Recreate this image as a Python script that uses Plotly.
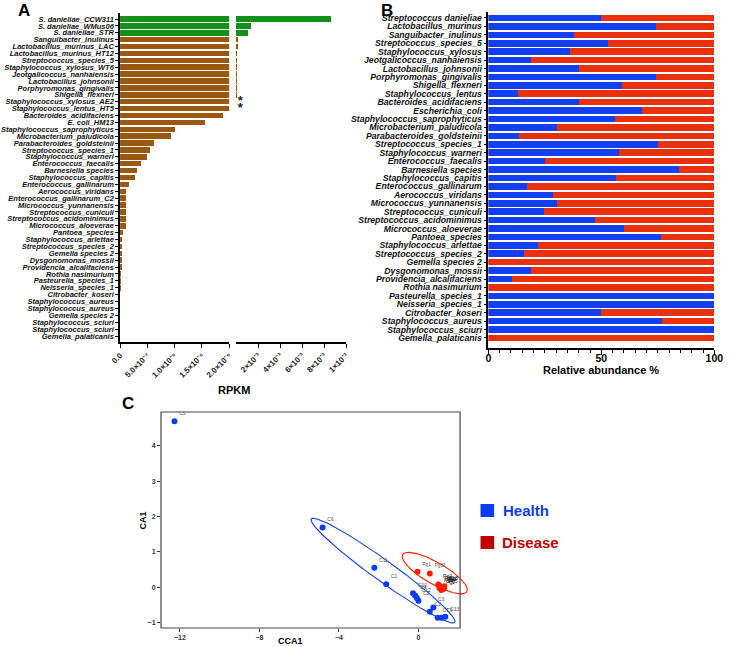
import numpy as np
import plotly.graph_objects as go

W, H = 735, 647
def fx(p): return p / W
def fy(p): return 1 - p / H

FONT = "Liberation Sans, Arial, sans-serif"

# ---------------- Panel A data ----------------
a_species = [
    "S. danieliae_CCW311", "S. danieliae_WMus06", "S. danieliae_STR", "Sanguibacter_inulinus",
    "Lactobacillus_murinus_LAC", "Lactobacillus_murinus_HT12", "Streptococcus_species_5",
    "Staphylococcus_xylosus_WT6", "Jeotgalicoccus_nanhaiensis", "Lactobacillus_johnsonii",
    "Porphyromonas_gingivalis", "Shigella_flexneri", "Staphylococcus_xylosus_AE2",
    "Staphylococcus_lentus_HT5", "Bacteroides_acidifaciens", "E. coli_HM13",
    "Staphylococcus_saprophyticus", "Microbacterium_paludicola", "Parabacteroides_goldsteinii",
    "Streptococcus_species_1", "Staphylococcus_warneri", "Enterococcus_faecalis",
    "Barnesiella species", "Staphylococcus_capitis", "Enterococcus_gallinarum",
    "Aerococcus_viridans", "Enterococcus_gallinarum_C2", "Micrococcus_yunnanensis",
    "Streptococcus_cuniculi", "Streptococcus_acidominimus", "Micrococcus_aloeverae",
    "Pantoea_species", "Staphylococcus_arlettae", "Streptococcus_species_2", "Gemella species 2",
    "Dysgonomonas_mossii", "Providencia_alcalifaciens", "Rothia nasimurium",
    "Pasteurella_species_1", "Neisseria_species_1", "Citrobacter_koseri",
    "Staphylococcus_aureus", "Staphylococcus_aureus", "Gemella species 2",
    "Staphylococcus_sciuri", "Staphylococcus_sciuri", "Gemella_palaticanis",
]
a_group = ["danieliae"] * 3 + ["other"] * 44
a_rpkm = [
    8.6e-3, 1.4e-3, 1.07e-3, 1.5e-4, 1.2e-4, 9e-5, 5e-5, 4e-5, 3e-5, 3e-5, 3e-5, 3e-5,
    5e-6, 4e-6, 1.89e-6, 1.55e-6, 1.0e-6, 0.94e-6, 0.62e-6, 0.55e-6, 0.49e-6, 0.39e-6,
    0.31e-6, 0.27e-6, 0.155e-6, 0.11e-6, 0.107e-6, 0.105e-6, 0.105e-6, 0.10e-6, 0.10e-6,
    0.05e-6, 0.04e-6, 0.03e-6, 0.03e-6, 0.03e-6, 0.02e-6, 0.015e-6, 0.015e-6, 0.01e-6,
    0.0, 0.0, 0.0, 0.0, 0.0, 0.0, 0.0,
]
a_starred = ["Staphylococcus_xylosus_AE2", "Staphylococcus_lentus_HT5"]
a_ticks1 = [0, 5e-7, 1e-6, 1.5e-6, 2e-6]
a_ticktext1 = ["0.0", "5.0×10⁻⁷", "1.0×10⁻⁶", "1.5×10⁻⁶", "2.0×10⁻⁶"]
a_ticks2 = [2e-3, 4e-3, 6e-3, 8e-3, 1e-2]
a_ticktext2 = ["2×10⁻³", "4×10⁻³", "6×10⁻³", "8×10⁻³", "1×10⁻²"]
a_break = 2e-6

# ---------------- Panel B data ----------------
b_species = [
    "Streptococcus danieliae", "Lactobacillus_murinus", "Sanguibacter_inulinus",
    "Streptococcus_species_5", "Staphylococcus_xylosus", "Jeotgalicoccus_nanhaiensis",
    "Lactobacillus_johnsonii", "Porphyromonas_gingivalis", "Shigella_flexneri",
    "Staphylococcus_lentus", "Bacteroides_acidifaciens", "Escherichia_coli",
    "Staphylococcus_saprophyticus", "Microbacterium_paludicola", "Parabacteroides_goldsteinii",
    "Streptococcus_species_1", "Staphylococcus_warneri", "Enterococcus_faecalis",
    "Barnesiella species", "Staphylococcus_capitis", "Enterococcus_gallinarum",
    "Aerococcus_viridans", "Micrococcus_yunnanensis", "Streptococcus_cuniculi",
    "Streptococcus_acidominimus", "Micrococcus_aloeverae", "Pantoea_species",
    "Staphylococcus_arlettae", "Streptococcus_species_2", "Gemella species 2",
    "Dysgonomonas_mossii", "Providencia_alcalifaciens", "Rothia nasimurium",
    "Pasteurella_species_1", "Neisseria_species_1", "Citrobacter_koseri",
    "Staphylococcus_aureus", "Staphylococcus_sciuri", "Gemella_palaticanis",
]
b_health = [50, 74, 38, 53, 36, 19, 40, 74, 59, 13, 40, 68, 56, 30.5, 13.5, 75, 58, 25,
            84.5, 56.5, 17, 28.5, 30.5, 24.5, 47, 60, 76.5, 22, 16, 0, 19, 10.5, 0,
            100, 100, 50, 77, 100, 0]
b_disease = [100 - v for v in b_health]

# ---------------- Panel C data ----------------
c_health_id = ["C5", "C6", "C11", "C1", "C10", "C4", "C12", "C8", "C3", "C2", "C7", "C9", "C13"]
c_health_x = [-12.27, -4.82, -2.22, -1.62, -0.27, -0.17, -0.08, 0.0, 0.75, 0.57, 0.97, 1.16, 1.35]
c_health_y = [4.69, 1.69, 0.55, 0.085, -0.17, -0.23, -0.30, -0.38, -0.57, -0.69, -0.86, -0.86, -0.83]
c_dis_id = ["Pg1", "Pg11", "Pg2", "Pg3", "Pg4", "Pg5", "Pg6", "Pg7", "Pg8"]
c_dis_x = [-0.05, 0.57, 1.0, 1.1, 1.2, 1.28, 1.05, 1.15, 1.3]
c_dis_y = [0.44, 0.39, 0.08, 0.03, 0.0, -0.04, -0.02, -0.08, 0.03]
# confidence ellipses: centre, half-axis vector u, half-axis vector v (data units)
ell_health = dict(c=(-1.78, 0.47), u=(3.61, -1.46), v=(0.294, 0.244))
ell_disease = dict(c=(0.82, 0.40), u=(1.62, -0.52), v=(0.26, 0.27))
c_xticks = [-12, -8, -4, 0]
c_yticks = [-1, 0, 1, 2, 3, 4]

GREEN = "#12901a"
BROWN = "#9a5710"
BLUE = "#1240f0"
RED = "#e8300c"
PBLUE = "#0a3cf5"
PRED = "#ff1e00"

fig = go.Figure()

# Panel A bars
a_rows = list(range(len(a_species)))
a_colors = [GREEN if g == "danieliae" else BROWN for g in a_group]
fig.add_trace(go.Bar(x=a_rpkm, y=a_rows, orientation="h", marker=dict(color=a_colors, line_width=0),
                     width=0.8, xaxis="x", yaxis="y", showlegend=False))
a_upper = [v if v > a_break * 5 else None for v in a_rpkm]
fig.add_trace(go.Bar(x=a_upper, y=a_rows, orientation="h", marker=dict(color=a_colors, line_width=0),
                     width=0.8, xaxis="x2", yaxis="y", showlegend=False))
star_rows = [a_species.index(s) for s in a_starred]
fig.add_trace(go.Scatter(x=[3.8e-4] * len(star_rows), y=star_rows, mode="text", text=["*"] * len(star_rows),
                         textfont=dict(size=13, color="#222", family=FONT, weight="bold"),
                         xaxis="x2", yaxis="y", showlegend=False, cliponaxis=False))

# Panel B bars
b_rows = list(range(len(b_species)))
fig.add_trace(go.Bar(x=b_health, y=b_rows, orientation="h", marker=dict(color=BLUE, line_width=0),
                     width=0.78, xaxis="x3", yaxis="y2", showlegend=False))
fig.add_trace(go.Bar(x=b_disease, y=b_rows, orientation="h", marker=dict(color=RED, line_width=0),
                     width=0.78, xaxis="x3", yaxis="y2", showlegend=False))

# Panel C ellipses
t = np.linspace(0, 2 * np.pi, 240)
for e, col in ((ell_health, PBLUE), (ell_disease, PRED)):
    ex = e["c"][0] + e["u"][0] * np.cos(t) + e["v"][0] * np.sin(t)
    ey = e["c"][1] + e["u"][1] * np.cos(t) + e["v"][1] * np.sin(t)
    fig.add_trace(go.Scatter(x=ex, y=ey, mode="lines", line=dict(color=col, width=1.1),
                             xaxis="x4", yaxis="y3", showlegend=False, hoverinfo="skip"))
fig.add_trace(go.Scatter(x=c_health_x, y=c_health_y, mode="markers+text", text=c_health_id,
                         textposition="top right", textfont=dict(size=5, color="#555", family=FONT),
                         marker=dict(color=PBLUE, size=6), xaxis="x4", yaxis="y3", showlegend=False))
dis_text_col = ["#555", "#555"] + ["#111"] * (len(c_dis_id) - 2)
fig.add_trace(go.Scatter(x=c_dis_x, y=c_dis_y, mode="markers+text", text=c_dis_id,
                         textposition="top right", textfont=dict(size=5, color=dis_text_col, family=FONT),
                         marker=dict(color=PRED, size=6), xaxis="x4", yaxis="y3", showlegend=False))

axis_common = dict(showgrid=False, zeroline=False, showline=True, linecolor="black", linewidth=1.5,
                   ticks="outside", tickcolor="black", tickwidth=1.2)

fig.update_layout(
    width=W, height=H, margin=dict(l=0, r=0, t=0, b=0),
    paper_bgcolor="white", plot_bgcolor="white", barmode="stack", bargap=0.2,
    font=dict(family=FONT, color="black"),
    xaxis=dict(domain=[fx(113), fx(225)], anchor="y", range=[0, a_break], tickvals=a_ticks1,
               ticktext=a_ticktext1, tickangle=-45, ticklen=4,
               tickfont=dict(size=8, weight="bold", color="#222"), **axis_common),
    xaxis2=dict(domain=[fx(232), fx(345)], anchor="y", range=[0, 0.01], tickvals=a_ticks2,
                ticktext=a_ticktext2, tickangle=-45, ticklen=4,
                tickfont=dict(size=8, weight="bold", color="#222"), **axis_common),
    yaxis=dict(domain=[fy(342), fy(13)], anchor="x", range=[46.87, -0.87], tickvals=a_rows,
               ticktext=a_species, ticklen=3,
               tickfont=dict(size=7.5, weight="bold", style="italic", color="#111"), **axis_common),
    xaxis3=dict(domain=[fx(491), fx(723)], anchor="y2", range=[0, 100], tickvals=[0, 50, 100],
                ticklen=5, ticklabelstandoff=-5,
                minor=dict(ticks="outside", dtick=5, ticklen=3, tickcolor="black"),
                tickfont=dict(size=10.5, weight="bold"), **axis_common),
    yaxis2=dict(domain=[fy(348), fy(12)], anchor="x3", range=[39.19, -0.71], tickvals=b_rows,
                ticktext=b_species, ticklen=3,
                tickfont=dict(size=8.7, weight="bold", style="italic", color="#111"), **axis_common),
    xaxis4=dict(domain=[fx(155), fx(475)], anchor="y3", range=[-12.95, 2.73], tickvals=c_xticks,
                showgrid=False, zeroline=False, showline=False, ticks="outside", ticklen=3,
                tickcolor="#333", tickfont=dict(size=7, weight="bold", color="#333")),
    yaxis3=dict(domain=[fy(628), fy(412)], anchor="x4", range=[-1.15, 4.95], tickvals=c_yticks,
                showgrid=False, zeroline=False, showline=False, ticks="outside", ticklen=3,
                tickcolor="#333", tickfont=dict(size=7, weight="bold", color="#333")),
)

shapes = [
    dict(type="rect", xref="paper", yref="paper", x0=fx(155), x1=fx(462), y0=fy(628), y1=fy(412),
         line=dict(color="#444", width=1.2)),
    dict(type="rect", xref="paper", yref="paper", x0=fx(483), x1=fx(497), y0=fy(517), y1=fy(504),
         fillcolor=PBLUE, line_width=0),
    dict(type="rect", xref="paper", yref="paper", x0=fx(483), x1=fx(497), y0=fy(549), y1=fy(536),
         fillcolor="#c00000", line_width=0),
]
fig.update_layout(shapes=shapes)

def ann(text, x, y, size, color="black", angle=0, xanchor="center"):
    fig.add_annotation(text=text, x=fx(x), y=fy(y), xref="paper", yref="paper", showarrow=False,
                       font=dict(size=size, color=color, family=FONT, weight="bold"),
                       textangle=angle, xanchor=xanchor, yanchor="middle")

ann("A", 14, 11, 17)
ann("B", 387, 11, 17)
ann("C", 121, 403, 17)
ann("RPKM", 230, 390, 11)
ann("Relative abundance %", 607, 370, 11)
ann("CCA1", 288, 641, 9)
ann("CA1", 137, 520, 9, angle=-90)
ann("Health", 504, 510, 15, color=PBLUE, xanchor="left")
ann("Disease", 503, 542, 15, color="#c00000", xanchor="left")

fig.write_html("out.html", config={"displayModeBar": False},
               post_script="document.body.style.margin='0';")
